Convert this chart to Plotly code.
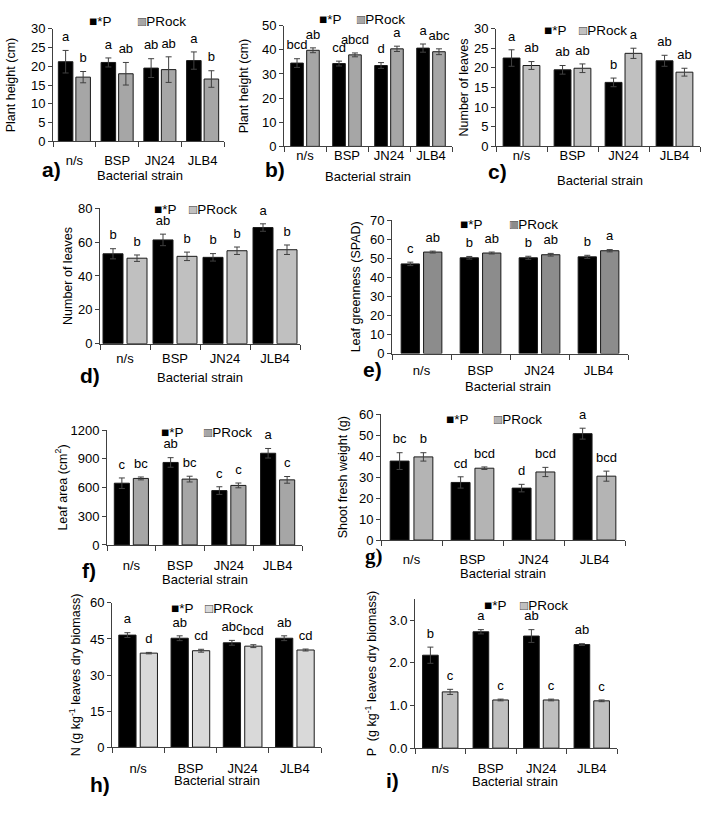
import plotly.graph_objects as go
import numpy as np

categories = ["n/s", "BSP", "JN24", "JLB4"]
series_names = ["*P", "PRock"]
x_title = "Bacterial strain"

# a) Plant height (cm)
a_p = [21.2, 21.0, 19.5, 21.5]; a_p_err = [3.0, 1.2, 2.5, 2.3]
a_r = [17.1, 18.0, 19.1, 16.6]; a_r_err = [1.5, 3.0, 3.4, 2.2]
a_p_let = ["a", "a", "ab", "a"]; a_r_let = ["b", "ab", "ab", "b"]

# b) Plant height (cm)
b_p = [34.5, 34.3, 33.5, 40.7]; b_p_err = [1.8, 1.0, 1.2, 1.7]
b_r = [39.8, 37.9, 40.4, 39.2]; b_r_err = [1.0, 0.8, 1.1, 1.2]
b_p_let = ["bcd", "cd", "d", "a"]; b_r_let = ["ab", "abcd", "a", "abc"]

# c) Number of leaves
c_p = [22.5, 19.5, 16.3, 21.8]; c_p_err = [2.1, 1.1, 1.1, 1.4]
c_r = [20.6, 19.9, 23.7, 18.9]; c_r_err = [1.0, 1.1, 1.3, 1.0]
c_p_let = ["a", "ab", "b", "ab"]; c_r_let = ["ab", "ab", "a", "ab"]

# d) Number of leaves
d_p = [53.1, 61.3, 51.0, 68.6]; d_p_err = [3.0, 3.4, 2.2, 2.2]
d_r = [50.5, 51.6, 54.9, 55.5]; d_r_err = [1.9, 2.5, 2.2, 2.8]
d_p_let = ["b", "ab", "b", "a"]; d_r_let = ["b", "b", "b", "b"]

# e) Leaf greenness (SPAD)
e_p = [47.0, 50.2, 50.2, 50.7]; e_p_err = [0.9, 0.7, 0.8, 0.8]
e_r = [53.2, 52.7, 51.8, 53.9]; e_r_err = [0.5, 0.5, 0.7, 0.6]
e_p_let = ["c", "b", "b", "b"]; e_r_let = ["ab", "ab", "ab", "a"]

# f) Leaf area (cm2)
f_p = [645, 862, 568, 958]; f_p_err = [55, 50, 40, 50]
f_r = [695, 688, 622, 680]; f_r_err = [15, 30, 25, 35]
f_p_let = ["c", "ab", "c", "a"]; f_r_let = ["bc", "bc", "c", "c"]

# g) Shoot fresh weight (g)
g_p = [37.7, 27.5, 24.8, 50.8]; g_p_err = [4.0, 2.7, 1.8, 2.6]
g_r = [39.7, 34.3, 32.5, 30.5]; g_r_err = [2.0, 0.6, 2.2, 2.4]
g_p_let = ["bc", "cd", "d", "a"]; g_r_let = ["b", "bcd", "bcd", "bcd"]

# h) N (g kg-1 leaves dry biomass)
h_p = [46.6, 45.3, 43.4, 45.3]; h_p_err = [1.0, 1.0, 1.0, 1.0]
h_r = [39.1, 40.1, 42.0, 40.4]; h_r_err = [0.3, 0.6, 0.6, 0.4]
h_p_let = ["a", "ab", "abc", "ab"]; h_r_let = ["d", "cd", "bcd", "cd"]

# i) P (g kg-1 leaves dry biomass)
i_p = [2.18, 2.73, 2.63, 2.43]; i_p_err = [0.19, 0.05, 0.15, 0.02]
i_r = [1.32, 1.13, 1.13, 1.11]; i_r_err = [0.06, 0.02, 0.02, 0.02]
i_p_let = ["b", "a", "ab", "ab"]; i_r_let = ["c", "c", "c", "c"]

W, H = 710, 818
FONT = "Liberation Sans, Arial, sans-serif"
AX = "#404040"

panels = [
    dict(tag="a)", p=a_p, pe=a_p_err, r=a_r, re=a_r_err, pl=a_p_let, rl=a_r_let,
         ytitle="Plant height (cm)", yr=[0, 30], dt=5, grey="#a6a6a6",
         box=(53, 224, 22, 137), bw=0.34, gap=0.07, ystand=12, tstand=7, xt=(140, 172),
         leg=(87, 136, 15), lab=(51, 166), labfont=FONT),
    dict(tag="b)", p=b_p, pe=b_p_err, r=b_r, re=b_r_err, pl=b_p_let, rl=b_r_let,
         ytitle="Plant height (cm)", yr=[0, 50], dt=10, grey="#a6a6a6",
         box=(284, 452, 19, 142), bw=0.30, gap=0.08, ystand=10, tstand=-3, xt=(368, 173),
         leg=(317, 355, 13), lab=(275, 166), labfont=FONT),
    dict(tag="c)", p=c_p, pe=c_p_err, r=c_r, re=c_r_err, pl=c_p_let, rl=c_r_let,
         ytitle="Number of leaves", yr=[0, 30], dt=5, grey="#c0c0c0",
         box=(496, 700, 22, 142), bw=0.33, gap=0.06, ystand=2, tstand=-3, xt=(600, 177),
         leg=(542, 577, 24), lab=(498, 168), labfont=FONT),
    dict(tag="d)", p=d_p, pe=d_p_err, r=d_r, re=d_r_err, pl=d_p_let, rl=d_r_let,
         ytitle="Number of leaves", yr=[0, 80], dt=20, grey="#c0c0c0",
         box=(100, 300, 205, 343), bw=0.40, gap=0.08, ystand=2, tstand=3, xt=(200, 377),
         leg=(152, 187, 206), lab=(90, 375), labfont=FONT),
    dict(tag="e)", p=e_p, pe=e_p_err, r=e_r, re=e_r_err, pl=e_p_let, rl=e_r_let,
         ytitle="Leaf greenness (SPAD)", yr=[0, 70], dt=10, grey="#8c8c8c",
         box=(392, 628, 217, 353), bw=0.31, gap=0.07, ystand=6, tstand=5, xt=(508, 387),
         leg=(458, 508, 222), lab=(372, 369), labfont=FONT),
    dict(tag="f)", p=f_p, pe=f_p_err, r=f_r, re=f_r_err, pl=f_p_let, rl=f_r_let,
         ytitle="Leaf area (cm<sup>2</sup>)", yr=[0, 1200], dt=300, grey="#a6a6a6",
         box=(107, 302, 431, 548), bw=0.31, gap=0.08, ystand=0, tstand=8, xt=(205, 583),
         leg=(159, 202, 433), lab=(89, 574), labfont=FONT),
    dict(tag="g)", p=g_p, pe=g_p_err, r=g_r, re=g_r_err, pl=g_p_let, rl=g_r_let,
         ytitle="Shoot fresh weight (g)", yr=[0, 60], dt=10, grey="#b4b4b4",
         box=(381, 625, 415, 543), bw=0.31, gap=0.08, ystand=8, tstand=7, xt=(503, 577),
         leg=(444, 492, 420), lab=(374, 559), labfont="Liberation Serif, Times New Roman, serif"),
    dict(tag="h)", p=h_p, pe=h_p_err, r=h_r, re=h_r_err, pl=h_p_let, rl=h_r_let,
         ytitle="N (g kg<sup>-1</sup> leaves dry biomass)", yr=[0, 60], dt=15, grey="#d9d9d9",
         box=(112, 321, 607, 754), bw=0.33, gap=0.08, ystand=6, tstand=9, xt=(217, 788),
         leg=(169, 203, 613), lab=(100, 792), labfont=FONT),
    dict(tag="i)", p=i_p, pe=i_p_err, r=i_r, re=i_r_err, pl=i_p_let, rl=i_r_let,
         ytitle="P  (g kg<sup>-1</sup> leaves dry biomass)", yr=[0, 3.5], dt=1, grey="#bfbfbf",
         box=(415, 617, 603, 755), bw=0.31, gap=0.08, ystand=9, tstand=8, xt=(515, 789),
         leg=(482, 518, 610), lab=(392, 788), labfont=FONT),
]

fig = go.Figure()
annotations = []
idx = np.arange(len(categories))

for k, pn in enumerate(panels):
    n = "" if k == 0 else str(k + 1)
    xa, ya = "x" + n, "y" + n
    bw, gap = pn["bw"], pn["gap"]
    xp = idx - (bw + gap) / 2
    xr = idx + (bw + gap) / 2
    for xs, vals, errs, color, lets, nm in [
        (xp, pn["p"], pn["pe"], "#000000", pn["pl"], series_names[0]),
        (xr, pn["r"], pn["re"], pn["grey"], pn["rl"], series_names[1]),
    ]:
        fig.add_trace(go.Bar(
            x=xs, y=vals, width=bw, xaxis=xa, yaxis=ya, showlegend=False, name=nm,
            marker=dict(color=color, line=dict(color="#1a1a1a", width=1)),
            error_y=dict(type="data", array=errs, color="#404040", thickness=1, width=3),
        ))
        fig.add_trace(go.Scatter(
            x=xs, y=np.array(vals) + np.array(errs), xaxis=xa, yaxis=ya,
            mode="markers+text", text=lets, textposition="top center", showlegend=False,
            marker=dict(size=8, color="rgba(0,0,0,0)"),
            textfont=dict(family=FONT, size=13, color="#000"), cliponaxis=False,
            hoverinfo="skip",
        ))
    x0, x1, y0, y1 = pn["box"]
    dom_x = [x0 / W, x1 / W]
    dom_y = [1 - y1 / H, 1 - y0 / H]
    ytick = dict(tickformat=".1f", tickvals=[0, 1, 2, 3]) if k == 8 else dict(dtick=pn["dt"], tick0=0)
    fig.update_layout(**{
        ("xaxis" + n): dict(
            domain=dom_x, anchor=ya, range=[-0.5, 3.5],
            tickvals=list(idx), ticktext=categories, ticks="",
            minor=dict(tickvals=list(np.arange(-0.5, 4.0, 1.0)), ticks="outside",
                       ticklen=5, tickcolor=AX, tickwidth=1),
            showline=True, linecolor=AX, linewidth=1, showgrid=False, zeroline=False,
            ticklabelstandoff=pn["tstand"],
            tickfont=dict(family=FONT, size=13, color="#000"),
            fixedrange=True,
        ),
        ("yaxis" + n): dict(
            domain=dom_y, anchor=xa, range=pn["yr"], **ytick,
            ticks="outside", ticklen=4, tickcolor=AX, showline=True, linecolor=AX,
            linewidth=1, showgrid=False, zeroline=False,
            tickfont=dict(family=FONT, size=13, color="#000"),
            title=dict(text=pn["ytitle"], standoff=pn["ystand"],
                       font=dict(family=FONT, size=12.5, color="#000")),
            fixedrange=True,
        ),
    })
    # x-axis title
    tx, ty = pn["xt"]
    annotations.append(dict(
        x=tx / W, y=1 - ty / H, xref="paper", yref="paper", xanchor="center", yanchor="middle",
        text=x_title, showarrow=False, font=dict(family=FONT, size=13, color="#000")))
    # legend (as annotations)
    lx1, lx2, ly = pn["leg"]
    annotations.append(dict(
        x=lx1 / W, y=1 - ly / H, xref="paper", yref="paper", xanchor="left", yanchor="middle",
        text="<span style='color:#000'>■</span>" + series_names[0], showarrow=False,
        font=dict(family=FONT, size=13.5, color="#000")))
    annotations.append(dict(
        x=lx2 / W, y=1 - ly / H, xref="paper", yref="paper", xanchor="left", yanchor="middle",
        text="<span style='color:%s'>■</span>" % pn["grey"] + series_names[1], showarrow=False,
        font=dict(family=FONT, size=13.5, color="#000")))
    annotations.append(dict(
        x=lx2 / W, y=1 - ly / H, xref="paper", yref="paper", xanchor="left", yanchor="middle",
        text="□", showarrow=False, font=dict(family=FONT, size=13.5, color="#333")))
    # panel tag
    lx, lyy = pn["lab"]
    annotations.append(dict(
        x=lx / W, y=1 - lyy / H, xref="paper", yref="paper", xanchor="center", yanchor="middle",
        text="<b>%s</b>" % pn["tag"], showarrow=False,
        font=dict(family=pn["labfont"], size=21, color="#000")))

fig.update_layout(
    width=W, height=H, margin=dict(l=0, r=0, t=0, b=0),
    paper_bgcolor="white", plot_bgcolor="white",
    barmode="overlay", showlegend=False,
    annotations=annotations,
    font=dict(family=FONT, color="#000"),
)

fig.write_html("out.html")
